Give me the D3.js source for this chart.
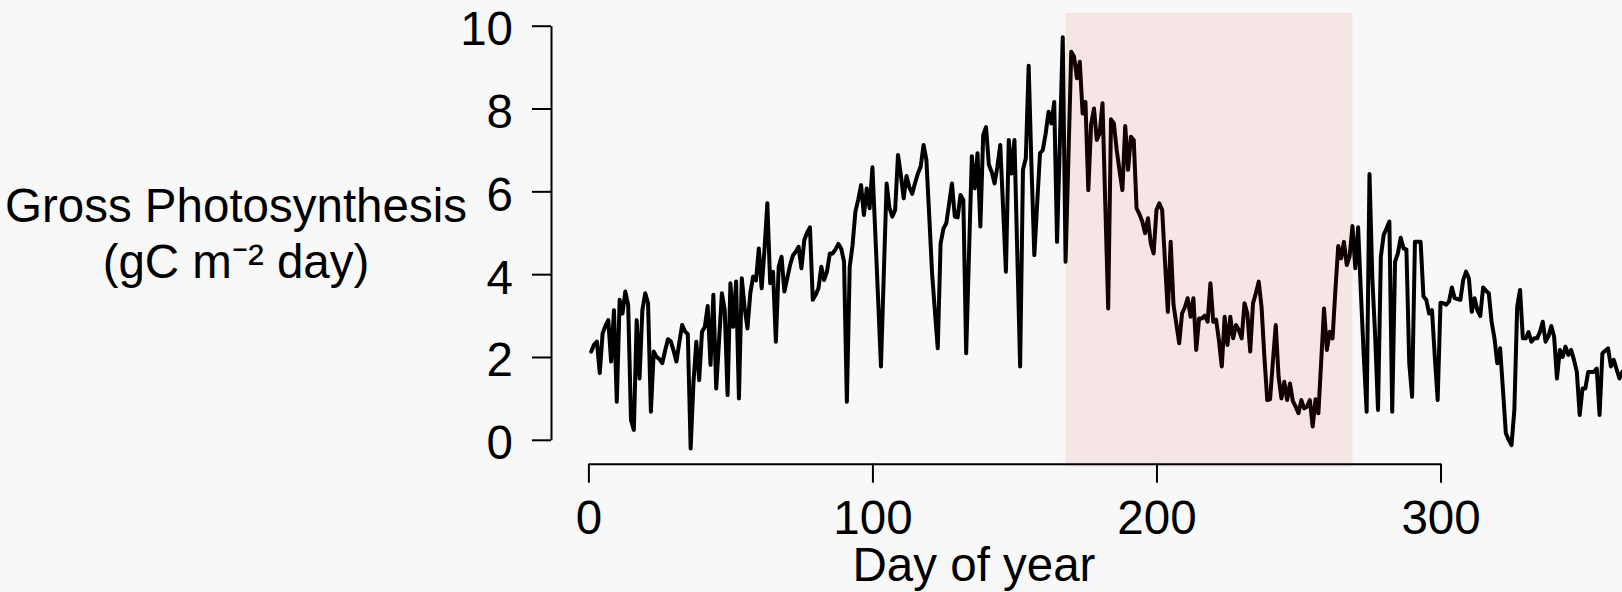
<!DOCTYPE html>
<html>
<head>
<meta charset="utf-8">
<script src="https://cdn.jsdelivr.net/npm/d3@7"></script>
<style>
  html, body { margin: 0; padding: 0; background: #f8f8f8; }
  svg { display: block; }
  text { font-family: "Liberation Sans", Arial, Helvetica, sans-serif; fill: #000; }
</style>
</head>
<body>
<svg id="chart" width="1622" height="592"></svg>
<script>
// ---- data ----
const firstDay = 1;
const gpp = [
  2.13, 2.30, 2.37, 1.61, 2.57, 2.75, 2.89, 1.89, 3.13, 0.92,   // 1-10
  3.38, 3.05, 3.58, 3.26, 0.48, 0.24, 2.89, 1.48, 3.13, 3.54,   // 11-20
  3.30, 0.68, 2.13, 2.00, 1.95, 1.85, 2.15, 2.43, 2.38, 2.15,   // 21-30
  1.89, 2.35, 2.77, 2.62, 2.55, -0.21, 1.40, 2.37, 1.44, 2.61,  // 31-40
  2.73, 3.23, 1.81, 3.50, 1.24, 2.40, 3.54, 3.13, 1.08, 3.78,   // 41-50
  2.73, 3.82, 1.00, 3.90, 3.20, 2.69, 3.54, 3.94, 3.85, 4.62,   // 51-60
  3.66, 4.60, 5.71, 3.78, 4.06, 2.37, 4.18, 4.42, 3.58, 3.90,   // 61-70
  4.22, 4.45, 4.54, 4.66, 4.14, 4.82, 5.00, 5.13, 3.38, 3.50,   // 71-80
  3.66, 4.18, 3.86, 4.06, 4.50, 4.50, 4.60, 4.73, 4.62, 4.30,   // 81-90
  0.92, 4.18, 4.70, 5.51, 5.80, 6.15, 5.43, 6.07, 5.59, 6.58,   // 91-100
  5.00, 3.40, 1.77, 4.00, 6.19, 5.60, 5.39, 5.55, 6.88, 6.40,   // 101-110
  5.83, 6.37, 6.10, 5.94, 6.20, 6.43, 6.60, 7.12, 6.76, 5.40,   // 111-120
  4.02, 3.10, 2.21, 4.74, 5.10, 5.23, 5.70, 6.19, 5.39, 5.37,   // 121-130
  5.91, 5.79, 2.09, 4.50, 6.85, 6.07, 6.92, 5.15, 7.36, 7.55,   // 131-140
  6.64, 6.47, 6.19, 6.60, 7.12, 5.60, 4.06, 7.24, 6.43, 7.24,   // 141-150
  4.50, 1.77, 6.52, 6.80, 9.03, 6.60, 4.46, 5.70, 6.92, 7.00,   // 151-160
  7.40, 7.92, 7.64, 8.16, 4.78, 7.20, 9.72, 4.30, 6.80, 9.37,   // 161-170
  9.25, 8.73, 9.13, 7.88, 8.16, 6.03, 7.62, 8.00, 7.24, 7.40,   // 171-180
  8.13, 5.65, 3.17, 7.74, 7.64, 7.00, 6.50, 6.03, 7.58, 6.52,   // 181-190
  7.32, 7.24, 5.59, 5.45, 5.27, 4.99, 5.35, 4.74, 4.50, 5.55,   // 191-200
  5.71, 5.55, 4.30, 3.09, 4.78, 3.26, 2.80, 2.33, 3.05, 3.20,   // 201-210
  3.42, 2.97, 3.42, 2.17, 2.93, 2.93, 3.00, 2.85, 3.78, 2.85,   // 211-220
  2.90, 2.40, 1.77, 2.97, 2.29, 2.97, 2.45, 2.77, 2.65, 2.45,   // 221-230
  3.30, 3.05, 2.13, 3.30, 3.54, 3.82, 3.21, 2.00, 0.96, 0.98,   // 231-240
  1.90, 2.77, 1.52, 1.00, 1.40, 0.96, 1.36, 0.94, 0.80, 0.64,   // 241-250
  0.96, 0.76, 0.80, 0.96, 0.32, 0.98, 0.64, 1.90, 3.17, 2.17,   // 251-260
  2.61, 2.45, 3.62, 4.68, 4.38, 4.78, 4.22, 4.43, 5.16, 4.14,   // 261-270
  5.13, 3.50, 2.00, 0.68, 6.42, 3.90, 2.50, 0.72, 4.42, 4.95,   // 271-280
  5.10, 5.27, 0.68, 4.30, 4.50, 4.88, 4.62, 4.60, 1.85, 1.04,   // 281-290
  4.78, 4.78, 4.78, 3.46, 3.38, 3.05, 3.13, 2.00, 0.96, 3.31,   // 291-300
  3.30, 3.26, 3.34, 3.68, 3.42, 3.40, 3.38, 3.86, 4.06, 3.90,   // 301-310
  3.09, 3.42, 3.13, 2.99, 3.68, 3.60, 3.54, 2.85, 2.45, 1.85,   // 311-320
  2.21, 1.20, 0.16, 0.00, -0.13, 0.72, 3.21, 3.62, 2.45, 2.45,  // 321-330
  2.60, 2.37, 2.45, 2.45, 2.60, 2.85, 2.37, 2.50, 2.75, 2.49,   // 331-340
  1.48, 2.17, 2.00, 2.25, 2.05, 2.17, 1.93, 1.64, 0.60, 1.24,   // 341-350
  1.24, 1.64, 1.64, 1.64, 1.72, 0.60, 2.09, 2.15, 2.21, 1.77,   // 351-360
  1.93, 1.70, 1.48, 1.64, 1.70                                  // 361-365
];
const xTicks = [0, 100, 200, 300];
const yTicks = [0, 2, 4, 6, 8, 10];
const shadeDays = [168, 269];
const plotYLim = [-0.645, 10.31];
const xLabel = "Day of year";
const yLabelLines = ["Gross Photosynthesis", "(gC m\u207B\u00B2 day)"];

// ---- layout ----
const svg = d3.select("#chart");
const FS = 47.5;
const x = d3.scaleLinear().domain([0, 300]).range([588.4, 1440.5]);
const y = d3.scaleLinear().domain([0, 10]).range([439.8, 25.7]);
const xAxisY = 463.7;
const yAxisX = 551;

const series = gpp.map((v, i) => ({ day: firstDay + i, v }));

// data line
const line = d3.line().x(d => x(d.day)).y(d => y(d.v));
svg.append("path")
  .datum(series)
  .attr("d", line)
  .attr("fill", "none")
  .attr("stroke", "#000")
  .attr("stroke-width", 4)
  .attr("stroke-linejoin", "round")
  .attr("stroke-linecap", "round");

// shaded period (drawn on top, translucent)
svg.append("rect")
  .attr("x", x(shadeDays[0]))
  .attr("width", x(shadeDays[1]) - x(shadeDays[0]))
  .attr("y", y(plotYLim[1]))
  .attr("height", y(plotYLim[0]) - y(plotYLim[1]))
  .attr("fill", "rgb(215,0,0)")
  .attr("fill-opacity", 0.075);

// x axis
const gx = svg.append("g").attr("transform", `translate(0,${xAxisY})`)
  .call(d3.axisBottom(x).tickValues(xTicks).tickSize(19).tickSizeOuter(0).tickFormat(d3.format("d")));
gx.select(".domain").attr("stroke", "#000").attr("stroke-width", 2);
gx.selectAll(".tick line").attr("stroke", "#000").attr("stroke-width", 2);
gx.selectAll(".tick text")
  .attr("y", 534 - xAxisY).attr("dy", null)
  .style("font-size", FS + "px")
  .style("font-family", "'Liberation Sans', Arial, sans-serif")
  .attr("fill", "#000");

// y axis
const gy = svg.append("g").attr("transform", `translate(${yAxisX},0)`)
  .call(d3.axisLeft(y).tickValues(yTicks).tickSize(19).tickSizeOuter(0).tickFormat(d3.format("d")));
gy.select(".domain").attr("stroke", "#000").attr("stroke-width", 2);
gy.selectAll(".tick line").attr("stroke", "#000").attr("stroke-width", 2);
gy.selectAll(".tick text")
  .attr("x", 513 - yAxisX).attr("y", 19).attr("dy", null)
  .attr("text-anchor", "end")
  .style("font-size", FS + "px")
  .style("font-family", "'Liberation Sans', Arial, sans-serif")
  .attr("fill", "#000");

// axis titles
svg.append("text")
  .attr("x", 974).attr("y", 581)
  .attr("text-anchor", "middle")
  .style("font-size", FS + "px")
  .text(xLabel);

const yl = svg.append("text")
  .attr("text-anchor", "middle")
  .style("font-size", FS + "px");
yl.append("tspan").attr("x", 236).attr("y", 222).text(yLabelLines[0]);
yl.append("tspan").attr("x", 236).attr("y", 278).text(yLabelLines[1]);
</script>
</body>
</html>
